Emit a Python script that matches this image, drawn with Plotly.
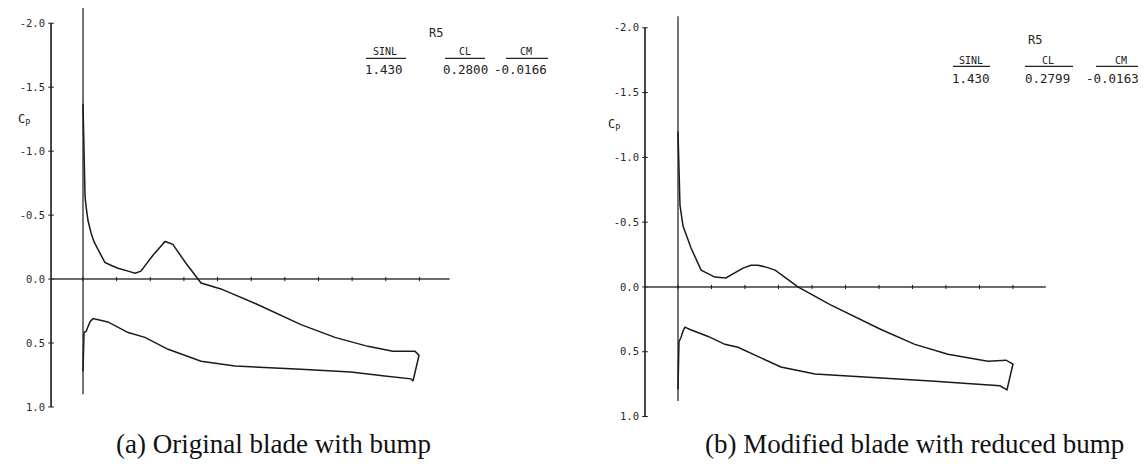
import plotly.graph_objects as go

# ---------------- data ----------------
# Panel (a): original blade with bump  (x/c, Cp)
a_suction_x = [0.0, 0.002, 0.003, 0.006, 0.009, 0.015, 0.024, 0.033, 0.045, 0.065, 0.083, 0.104, 0.134,
               0.155, 0.172, 0.208, 0.244, 0.267, 0.306, 0.342, 0.351, 0.41, 0.514, 0.648, 0.749, 0.847,
               0.921, 0.987, 0.999]
a_suction_cp = [-1.37, -1.0, -0.88, -0.65, -0.57, -0.456, -0.36, -0.29, -0.23, -0.13, -0.108, -0.085, -0.062,
                -0.046, -0.062, -0.186, -0.294, -0.271, -0.124, 0.0, 0.031, 0.077, 0.193, 0.356, 0.456, 0.526,
                0.565, 0.565, 0.595]
a_pressure_x = [0.981, 0.975, 0.897, 0.796, 0.648, 0.452, 0.351, 0.253, 0.184, 0.134, 0.074, 0.050,
                0.030, 0.021, 0.009, 0.003, 0.0]
a_pressure_cp = [0.797, 0.78, 0.758, 0.727, 0.704, 0.68, 0.642, 0.549, 0.456, 0.418, 0.335, 0.318,
                 0.309, 0.333, 0.41, 0.418, 0.72]

# Panel (b): modified blade with reduced bump
b_suction_x = [0.0, 0.002, 0.004, 0.006, 0.015, 0.039, 0.069, 0.11, 0.143, 0.17, 0.194, 0.218, 0.239,
               0.263, 0.29, 0.358, 0.454, 0.606, 0.707, 0.806, 0.925, 0.979, 1.0]
b_suction_cp = [-1.2, -0.95, -0.75, -0.63, -0.47, -0.30, -0.13, -0.076, -0.069, -0.107, -0.145, -0.168, -0.168,
                -0.153, -0.13, 0.0, 0.137, 0.328, 0.443, 0.519, 0.573, 0.565, 0.595]
b_pressure_x = [0.982, 0.961, 0.755, 0.606, 0.409, 0.307, 0.239, 0.179, 0.14, 0.09, 0.036, 0.021,
                0.015, 0.009, 0.003, 0.0]
b_pressure_cp = [0.794, 0.763, 0.725, 0.702, 0.672, 0.618, 0.534, 0.466, 0.443, 0.382, 0.328, 0.31,
                 0.34, 0.39, 0.42, 0.79]

chord_ticks = [0.0, 0.1, 0.2, 0.3, 0.4, 0.5, 0.6, 0.7, 0.8, 0.9, 1.0]
cp_ticks = [-2.0, -1.5, -1.0, -0.5, 0.0, 0.5, 1.0]
cp_tick_labels = ["-2.0", "-1.5", "-1.0", "-0.5", "0.0", "0.5", "1.0"]
le_line_cp_a = [-2.12, 0.90]
le_line_cp_b = [-2.09, 0.88]

case_name = "R5"
coef_headers = ["SINL", "CL", "CM"]
a_coefs = ["1.430", "0.2800", "-0.0166"]
b_coefs = ["1.430", "0.2799", "-0.0163"]
captions = ["(a) Original blade with bump", "(b) Modified blade with reduced bump"]

# ---------------- layout helpers ----------------
W, H = 1146, 466
INK = "#1a1a1a"
MONO = "DejaVu Sans Mono"


def px(x):
    return x / W


def py(y):
    return 1 - y / H


panels = [
    dict(xa="x", ya="y", xdom=(38, 442), ydom=(0, 405), xr=(-0.110, 1.091), yr=(1.013, -2.119),
         yaxis_x=-0.095, zero_end=1.09, sx=a_suction_x, scp=a_suction_cp, pxs=a_pressure_x,
         pcp=a_pressure_cp, le=le_line_cp_a),
    dict(xa="x2", ya="y2", xdom=(632, 1040), ydom=(6, 414), xr=(-0.1134, 1.1045), yr=(1.008, -2.107),
         yaxis_x=-0.0985, zero_end=1.098, sx=b_suction_x, scp=b_suction_cp, pxs=b_pressure_x,
         pcp=b_pressure_cp, le=le_line_cp_b),
]

fig = go.Figure()

for p in panels:
    xa, ya = p["xa"], p["ya"]
    fig.add_trace(go.Scatter(x=[p["yaxis_x"], p["yaxis_x"]], y=[cp_ticks[0], cp_ticks[-1]],
                             mode="lines", line=dict(color=INK, width=1.6),
                             xaxis=xa, yaxis=ya, hoverinfo="skip", showlegend=False))
    fig.add_trace(go.Scatter(x=[p["yaxis_x"]] * len(cp_ticks), y=cp_ticks, mode="markers",
                             marker=dict(symbol="line-ew", size=4, line=dict(color=INK, width=1)),
                             xaxis=xa, yaxis=ya, hoverinfo="skip", showlegend=False))
    fig.add_trace(go.Scatter(x=[p["yaxis_x"], p["zero_end"]], y=[0, 0], mode="lines",
                             line=dict(color="#3a3a3a", width=1.6),
                             xaxis=xa, yaxis=ya, hoverinfo="skip", showlegend=False))
    fig.add_trace(go.Scatter(x=chord_ticks, y=[0] * len(chord_ticks), mode="markers",
                             marker=dict(symbol="line-ns", size=3, line=dict(color=INK, width=1)),
                             xaxis=xa, yaxis=ya, hoverinfo="skip", showlegend=False))
    fig.add_trace(go.Scatter(x=[0, 0], y=p["le"], mode="lines", line=dict(color=INK, width=1.2),
                             xaxis=xa, yaxis=ya, hoverinfo="skip", showlegend=False))
    fig.add_trace(go.Scatter(x=p["sx"] + p["pxs"], y=p["scp"] + p["pcp"], mode="lines",
                             line=dict(color=INK, width=1.5),
                             xaxis=xa, yaxis=ya, hoverinfo="skip", showlegend=False))

axis_common_x = dict(visible=False, fixedrange=True)
axis_common_y = dict(tickmode="array", tickvals=cp_ticks, ticktext=cp_tick_labels, ticks="",
                     showgrid=False, zeroline=False, showline=False,
                     tickfont=dict(family=MONO, size=10.5, color="#2a2a2a"), fixedrange=True)

p0, p1 = panels
fig.update_layout(
    width=W, height=H, margin=dict(l=0, r=0, t=0, b=0),
    paper_bgcolor="white", plot_bgcolor="white", showlegend=False,
    xaxis=dict(domain=[px(p0["xdom"][0]), px(p0["xdom"][1])], range=list(p0["xr"]), anchor="y",
               **axis_common_x),
    yaxis=dict(domain=[py(p0["ydom"][1]), py(p0["ydom"][0])], range=list(p0["yr"]), anchor="x",
               **axis_common_y),
    xaxis2=dict(domain=[px(p1["xdom"][0]), px(p1["xdom"][1])], range=list(p1["xr"]), anchor="y2",
                **axis_common_x),
    yaxis2=dict(domain=[py(p1["ydom"][1]), py(p1["ydom"][0])], range=list(p1["yr"]), anchor="x2",
                **axis_common_y),
)

annotations = []
shapes = []

text_blocks = [
    dict(name=(428, 25), head_y=44, line_y=51, val_y=62, head_x=[377, 457, 518],
         line_x=[(358, 398), (437, 477), (498, 540)], val_x=[376, 457, 512], vals=a_coefs,
         cp=(8, 113)),
    dict(name=(1027, 32), head_y=53, line_y=59, val_y=71, head_x=[963, 1040, 1113],
         line_x=[(945, 982), (1017, 1065), (1088, 1137)], val_x=[963, 1039, 1104], vals=b_coefs,
         cp=(598, 118)),
]

for tb in text_blocks:
    annotations.append(dict(x=px(tb["name"][0]), y=py(tb["name"][1]), xref="paper", yref="paper",
                            text=case_name, showarrow=False, xanchor="center", yanchor="middle",
                            font=dict(family=MONO, size=12, color="#222")))
    for hx, (l0, l1), vx, head, val in zip(tb["head_x"], tb["line_x"], tb["val_x"], coef_headers, tb["vals"]):
        annotations.append(dict(x=px(hx), y=py(tb["head_y"]), xref="paper", yref="paper", text=head,
                                showarrow=False, xanchor="center", yanchor="middle",
                                font=dict(family=MONO, size=10, color="#222")))
        annotations.append(dict(x=px(vx), y=py(tb["val_y"]), xref="paper", yref="paper", text=val,
                                showarrow=False, xanchor="center", yanchor="middle",
                                font=dict(family=MONO, size=12.5, color="#222")))
        shapes.append(dict(type="line", xref="paper", yref="paper", x0=px(l0), x1=px(l1),
                           y0=py(tb["line_y"]), y1=py(tb["line_y"]),
                           line=dict(color="#222", width=1.2)))
    annotations.append(dict(x=px(tb["cp"][0]), y=py(tb["cp"][1]), xref="paper", yref="paper",
                            text="C<sub>P</sub>", showarrow=False, xanchor="left", yanchor="middle",
                            font=dict(family=MONO, size=12, color="#222")))

cap_centers = [265, 906]
for cx, cap in zip(cap_centers, captions):
    annotations.append(dict(x=px(cx), y=py(441), xref="paper", yref="paper", text=cap,
                            showarrow=False, xanchor="center", yanchor="middle",
                            font=dict(family="Liberation Serif", size=27, color="#111")))

fig.update_layout(annotations=annotations, shapes=shapes)

fig.write_html("out.html")
